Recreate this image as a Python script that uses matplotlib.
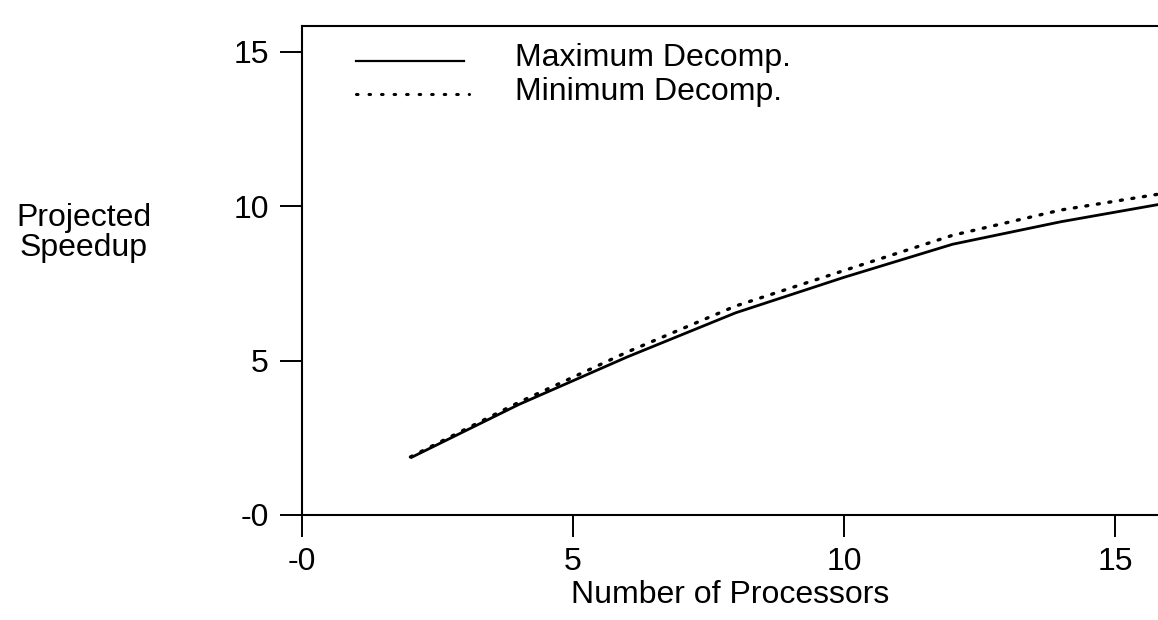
import matplotlib
matplotlib.use("Agg")
import matplotlib.pyplot as plt

plt.rcParams['font.family'] = ['Liberation Sans', 'DejaVu Sans']

processors = [2, 4, 6, 8, 10, 12, 14, 16]
max_decomp = [1.85, 3.58, 5.12, 6.55, 7.70, 8.77, 9.50, 10.12]
min_decomp = [1.88, 3.65, 5.28, 6.77, 7.92, 9.06, 9.88, 10.45]

xticks = [0, 5, 10, 15]
xtick_labels = ["-0", "5", "10", "15"]
yticks = [0, 5, 10, 15]
ytick_labels = ["-0", "5", "10", "15"]

FS = 23

fig = plt.figure(figsize=(11.58, 6.2), dpi=100)
ax = fig.add_axes([302/1158, 1 - 515/620, 1 - 302/1158, (515 - 26)/620])

ax.plot(processors, max_decomp, color='black', lw=2.0, solid_capstyle='butt')
ax.plot(processors, min_decomp, color='black', lw=2.4, linestyle=(0, (0.6, 2.9)),
        dash_capstyle='round')

ax.set_xlim(0, 15.79)
ax.set_ylim(0, 15.84)
ax.set_xticks(xticks, xtick_labels)
ax.set_yticks(yticks, ytick_labels)
ax.tick_params(direction='out', length=16, width=1.4, labelsize=FS)
ax.tick_params(axis='x', pad=7)
ax.tick_params(axis='y', pad=8)
for s in ['left', 'bottom', 'top']:
    ax.spines[s].set_linewidth(1.5)
ax.spines['right'].set_visible(False)

# legend drawn manually in axes coordinates
lx0, lx1 = (356 - 302)/856, (464 - 302)/856
ax.plot([lx0, lx1], [(515 - 61)/489, (515 - 61)/489], transform=ax.transAxes,
        color='black', lw=1.6, clip_on=False)
ax.plot([lx0, (469 - 302)/856], [(515 - 94)/489, (515 - 94)/489], transform=ax.transAxes,
        color='black', lw=2.2, linestyle=(0, (0.5, 3.6)), dash_capstyle='round', clip_on=False)
ax.text((515 - 302)/856, (515 - 58)/489, "Maximum Decomp.", transform=ax.transAxes,
        fontsize=FS, va='center', ha='left')
ax.text((515 - 302)/856, (515 - 92)/489, "Minimum Decomp.", transform=ax.transAxes,
        fontsize=FS, va='center', ha='left')

fig.text(84/1158, 1 - 233/620, "Projected\nSpeedup", fontsize=FS, ha='center', va='center',
         linespacing=1.0)
fig.text(730/1158, 1 - 595/620, "Number of Processors", fontsize=FS, ha='center', va='center')

fig.savefig("out.png", dpi=100)
